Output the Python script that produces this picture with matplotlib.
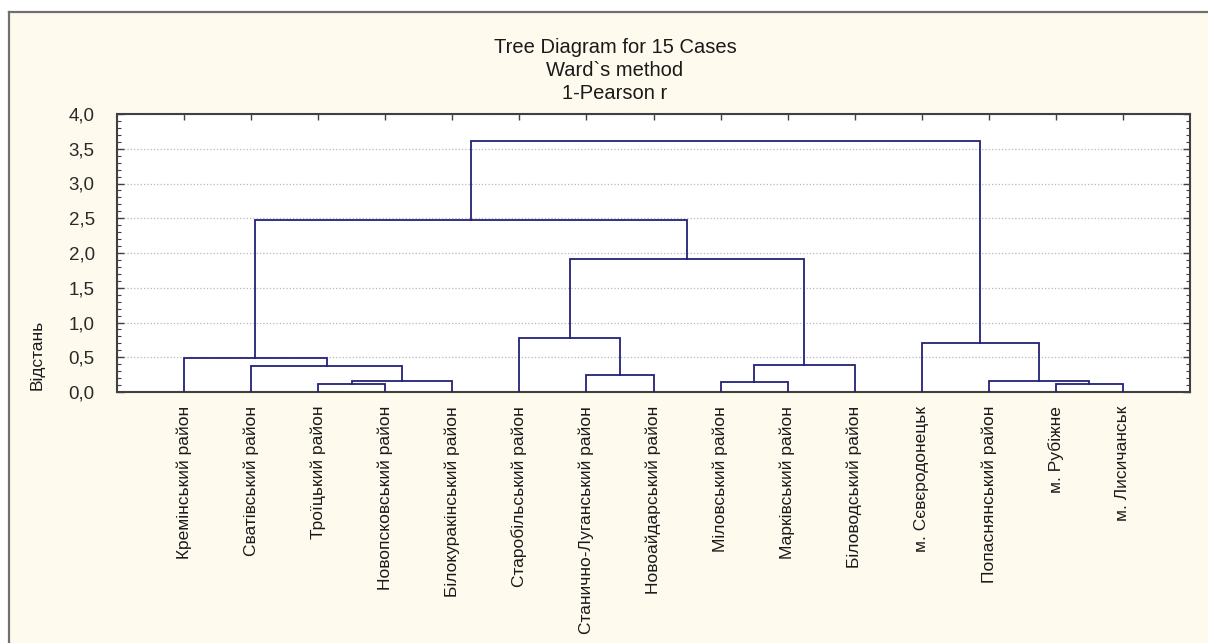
import numpy as np
import matplotlib.pyplot as plt
from matplotlib.patches import Rectangle
from matplotlib.lines import Line2D
from matplotlib.ticker import MultipleLocator, FuncFormatter

plt.rcParams['font.family'] = ['Liberation Sans', 'DejaVu Sans']

# Leaves in dendrogram order
leaves = ['Кремінський район', 'Сватівський район', 'Троїцький район',
          'Новопсковський район', 'Білокуракінський район', 'Старобільський район',
          'Станично-Луганський район', 'Новоайдарський район', 'Міловський район',
          'Марківський район', 'Біловодський район', 'м. Сєвєродонецьк',
          'Попаснянський район', 'м. Рубіжне', 'м. Лисичанськ']

# Merges: child a, child b (index < 15 -> leaf, else earlier merge 15+k), distance
merge_a = [2, 13, 8, 15, 12, 6, 1, 17, 0, 11, 5, 25, 23, 27]
merge_b = [3, 14, 9, 4, 16, 7, 18, 10, 21, 19, 20, 22, 26, 24]
merge_h = [0.115, 0.115, 0.15, 0.16, 0.16, 0.245, 0.37, 0.39, 0.49, 0.71, 0.78,
           1.91, 2.47, 3.61]

title_lines = ['Tree Diagram for 15 Cases', 'Ward`s method', '1-Pearson r']
ylabel = 'Відстань'

W, H = 1208, 643
fig = plt.figure(figsize=(W / 100, H / 100), dpi=100, facecolor='white')

# cream panel with grey top/left border
fig.patches.append(Rectangle((9 / W, 0), 1, 1 - 12 / H, transform=fig.transFigure,
                             facecolor='#fffaee', edgecolor='none', zorder=-10))
fig.lines.append(Line2D([9 / W, 9 / W], [0, 1 - 12 / H], transform=fig.transFigure,
                        color='#707070', lw=1.6, zorder=-5))
fig.lines.append(Line2D([9 / W, 1], [1 - 12 / H, 1 - 12 / H], transform=fig.transFigure,
                        color='#707070', lw=1.6, zorder=-5))

ax = fig.add_axes([117 / W, 1 - 392 / H, (1190 - 117) / W, (392 - 114) / H])
ax.set_facecolor('white')

# dendrogram
n = len(leaves)
xpos = list(np.arange(1, n + 1, dtype=float))
hpos = [0.0] * n
line_col = '#22227a'
for a, b, h in zip(merge_a, merge_b, merge_h):
    xa, xb = xpos[a], xpos[b]
    ax.plot([xa, xa, xb, xb], [hpos[a], h, h, hpos[b]], color=line_col, lw=1.3,
            solid_joinstyle='miter', zorder=3)
    xpos.append((xa + xb) / 2)
    hpos.append(h)

ax.set_xlim(0, n + 1)
ax.set_ylim(0, 4)

ax.set_xticks(np.arange(1, n + 1))
ax.set_xticklabels(leaves, rotation=90, fontsize=12.5, va='top', ha='center',
                   color='#1a1a1a')
ax.tick_params(axis='x', which='both', bottom=False, top=True, direction='in',
               length=4, width=1, color='#404040', pad=10)

ax.yaxis.set_major_locator(MultipleLocator(0.5))
ax.yaxis.set_minor_locator(MultipleLocator(0.1))
ax.yaxis.set_major_formatter(FuncFormatter(lambda v, p: f'{v:.1f}'.replace('.', ',')))
ax.tick_params(axis='y', which='major', left=True, right=True, direction='in',
               length=5, width=1, color='#404040', labelsize=13.5, pad=16,
               labelcolor='#2a2a2a')
ax.tick_params(axis='y', which='minor', left=True, right=True, direction='in',
               length=3, width=0.8, color='#404040')

ax.grid(axis='y', which='major', color='#b8b8b8', linestyle=':', lw=0.9)
ax.set_axisbelow(True)
for s in ax.spines.values():
    s.set_color('#404040')
    s.set_linewidth(1.5)

# titles
for txt, yb in zip(title_lines, [53, 76, 99]):
    fig.text(615 / W, 1 - yb / H, txt, ha='center', va='baseline', fontsize=14.5,
             color='#1a1a1a')

fig.text(37 / W, 1 - 355 / H, ylabel, rotation=90, ha='center', va='center',
         fontsize=12.5, color='#1a1a1a')

fig.savefig('out.png', dpi=100, facecolor=fig.get_facecolor())
